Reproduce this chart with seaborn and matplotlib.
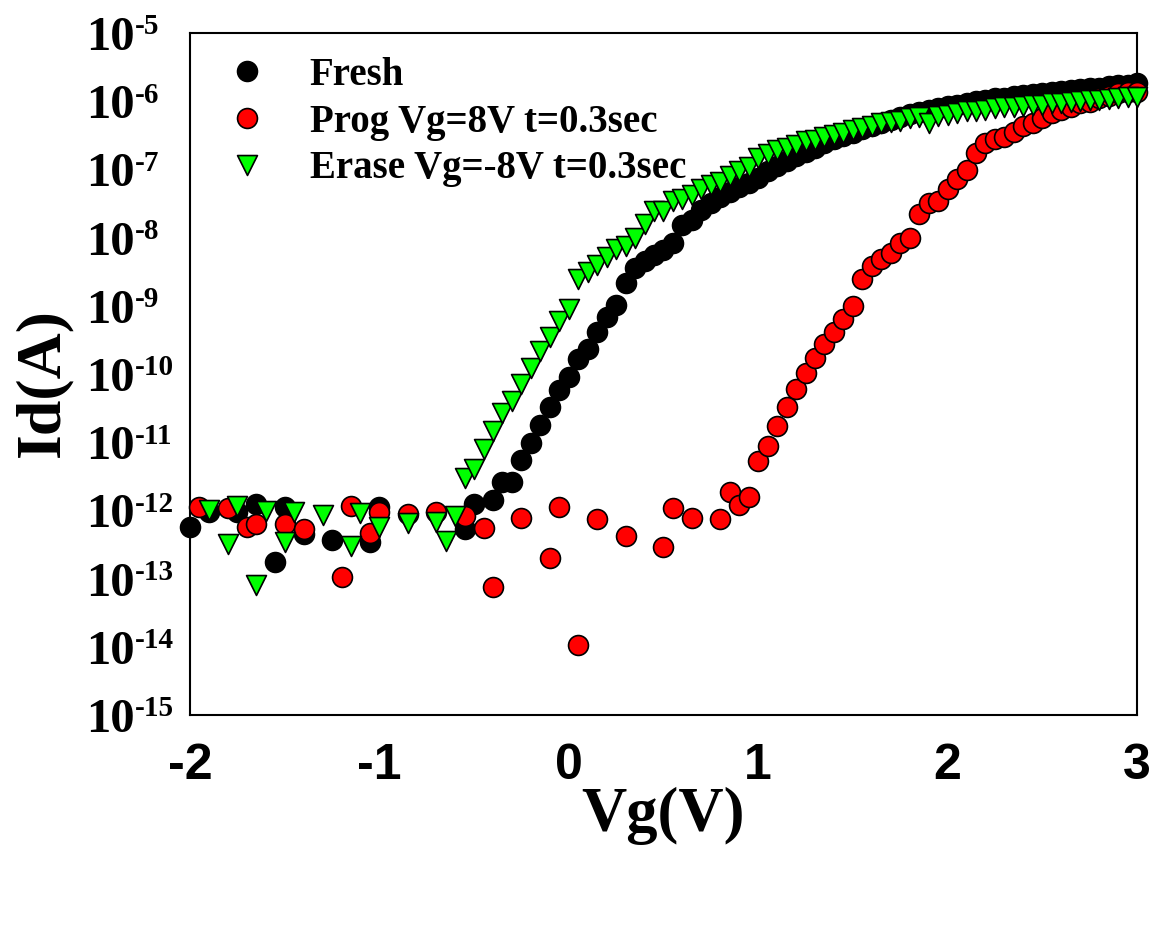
import matplotlib
matplotlib.use("Agg")
import matplotlib.pyplot as plt
import numpy as np
import pandas as pd
import seaborn as sns
from matplotlib.ticker import NullLocator

# gate voltage (V) and log10 of drain current (A)
fresh_vg = [-2.0, -1.9, -1.75, -1.65, -1.55, -1.5, -1.4, -1.25, -1.05, -1.0,
            -0.55, -0.5, -0.4, -0.35, -0.3, -0.25, -0.2, -0.15, -0.1, -0.05,
            0.0, 0.05, 0.1, 0.15, 0.2, 0.25, 0.3, 0.35, 0.4, 0.45,
            0.5, 0.55, 0.6, 0.65, 0.7, 0.75, 0.8, 0.85, 0.9, 0.95,
            1.0, 1.05, 1.1, 1.15, 1.2, 1.25, 1.3, 1.35, 1.4, 1.45,
            1.5, 1.55, 1.6, 1.65, 1.7, 1.75, 1.8, 1.85, 1.9, 1.95,
            2.0, 2.05, 2.1, 2.15, 2.2, 2.25, 2.3, 2.35, 2.4, 2.45,
            2.5, 2.55, 2.6, 2.65, 2.7, 2.75, 2.8, 2.85, 2.9, 2.95, 3.0]
fresh_log_id = [-12.24, -12.02, -12.02, -11.90, -12.75, -11.95, -12.34, -12.43, -12.46, -11.95,
                -12.27, -11.90, -11.85, -11.58, -11.58, -11.26, -11.01, -10.75, -10.48, -10.23,
                -10.04, -9.78, -9.63, -9.39, -9.16, -8.99, -8.67, -8.45, -8.35, -8.26,
                -8.18, -8.08, -7.82, -7.74, -7.60, -7.50, -7.40, -7.33, -7.26, -7.20,
                -7.13, -7.03, -6.95, -6.88, -6.81, -6.74, -6.68, -6.62, -6.56, -6.51,
                -6.46, -6.41, -6.37, -6.32, -6.28, -6.23, -6.19, -6.16, -6.13, -6.10,
                -6.07, -6.05, -6.02, -6.00, -5.98, -5.96, -5.95, -5.93, -5.91, -5.90,
                -5.88, -5.87, -5.85, -5.84, -5.82, -5.81, -5.80, -5.78, -5.77, -5.76, -5.74]

prog_vg = [-1.95, -1.8, -1.7, -1.65, -1.5, -1.4, -1.2, -1.15, -1.05, -1.0,
           -0.85, -0.7, -0.55, -0.45, -0.4, -0.25, -0.1, -0.05, 0.05, 0.15,
           0.3, 0.5, 0.55, 0.65, 0.8, 0.85, 0.9, 0.95,
           1.0, 1.05, 1.1, 1.15, 1.2, 1.25, 1.3, 1.35, 1.4, 1.45,
           1.5, 1.55, 1.6, 1.65, 1.7, 1.75, 1.8, 1.85, 1.9, 1.95,
           2.0, 2.05, 2.1, 2.15, 2.2, 2.25, 2.3, 2.35, 2.4, 2.45,
           2.5, 2.55, 2.6, 2.65, 2.7, 2.75, 2.8, 2.85, 2.9, 2.95, 3.0]
prog_log_id = [-11.95, -11.97, -12.24, -12.20, -12.20, -12.28, -12.98, -11.94, -12.33, -12.02,
               -12.05, -12.03, -12.08, -12.26, -13.13, -12.11, -12.70, -11.95, -13.97, -12.12,
               -12.38, -12.53, -11.96, -12.11, -12.13, -11.73, -11.92, -11.81,
               -11.28, -11.06, -10.77, -10.48, -10.22, -9.99, -9.76, -9.56, -9.39, -9.19,
               -9.00, -8.61, -8.41, -8.31, -8.23, -8.08, -8.00, -7.66, -7.49, -7.47,
               -7.29, -7.14, -7.01, -6.76, -6.62, -6.55, -6.52, -6.45, -6.36, -6.32,
               -6.25, -6.18, -6.13, -6.08, -6.03, -6.01, -5.96, -5.93, -5.88, -5.86, -5.86]

erase_vg = [-1.9, -1.8, -1.75, -1.65, -1.6, -1.5, -1.45, -1.3, -1.15, -1.1,
            -1.0, -0.85, -0.7, -0.65, -0.6,
            -0.55, -0.5, -0.45, -0.4, -0.35, -0.3, -0.25, -0.2, -0.15, -0.1, -0.05,
            0.0, 0.05, 0.1, 0.15, 0.2, 0.25, 0.3, 0.35, 0.4, 0.45,
            0.5, 0.55, 0.6, 0.65, 0.7, 0.75, 0.8, 0.85, 0.9, 0.95,
            1.0, 1.05, 1.1, 1.15, 1.2, 1.25, 1.3, 1.35, 1.4, 1.45,
            1.5, 1.55, 1.6, 1.65, 1.7, 1.75, 1.8, 1.85, 1.9, 1.95,
            2.0, 2.05, 2.1, 2.15, 2.2, 2.25, 2.3, 2.35, 2.4, 2.45,
            2.5, 2.55, 2.6, 2.65, 2.7, 2.75, 2.8, 2.85, 2.9, 2.95, 3.0]
erase_log_id = [-11.99, -12.49, -11.94, -13.10, -12.01, -12.46, -12.02, -12.07, -12.52, -12.04,
                -12.25, -12.19, -12.17, -12.45, -12.08,
                -11.53, -11.39, -11.10, -10.83, -10.57, -10.39, -10.14, -9.91, -9.66, -9.46, -9.23,
                -9.05, -8.61, -8.51, -8.40, -8.28, -8.17, -8.12, -8.00, -7.80, -7.61,
                -7.61, -7.47, -7.44, -7.38, -7.29, -7.23, -7.18, -7.10, -7.02, -6.96,
                -6.83, -6.78, -6.72, -6.68, -6.64, -6.59, -6.57, -6.53, -6.50, -6.46,
                -6.42, -6.40, -6.37, -6.32, -6.30, -6.29, -6.25, -6.23, -6.32, -6.22,
                -6.20, -6.18, -6.15, -6.15, -6.13, -6.10, -6.09, -6.08, -6.07, -6.06,
                -6.05, -6.03, -6.02, -6.01, -6.00, -5.98, -5.98, -5.97, -5.96, -5.94, -5.94]

SERIES = [
    ("Fresh", fresh_vg, fresh_log_id, "black", "o"),
    ("Prog Vg=8V t=0.3sec", prog_vg, prog_log_id, "#ff0000", "o"),
    ("Erase Vg=-8V t=0.3sec", erase_vg, erase_log_id, "#00ff00", "v"),
]
x_ticks = [-2, -1, 0, 1, 2, 3]
x_tick_labels = ["-2", "-1", "0", "1", "2", "3"]
y_exponents = list(range(-15, -4))

SERIF = "Liberation Serif"
SANS = "Liberation Sans"

sns.set_style("white")
plt.rcParams["font.family"] = [SERIF, "DejaVu Sans"]
for key in ["text.color", "axes.labelcolor", "xtick.color", "ytick.color", "axes.edgecolor"]:
    plt.rcParams[key] = "black"

fig = plt.figure(figsize=(11.57, 9.5), dpi=100)
ax = fig.add_axes([0.1642, 0.2474, 0.8185, 0.7179])

for i, (label, vg, log_id, color, marker) in enumerate(SERIES):
    df = pd.DataFrame({"Vg": vg, "Id": 10.0 ** np.asarray(log_id)})
    sns.scatterplot(data=df, x="Vg", y="Id", ax=ax, color=color, marker=marker,
                    s=205, edgecolor="black", linewidth=1.2, label=label,
                    clip_on=False, zorder=3 + i)

ax.set_yscale("log")
ax.set_xlim(-2, 3)
ax.set_ylim(1e-15, 1e-5)
ax.yaxis.set_minor_locator(NullLocator())
ax.xaxis.set_minor_locator(NullLocator())

ax.set_xticks(x_ticks)
ax.set_xticklabels(x_tick_labels, fontfamily=SANS, fontweight="bold", fontsize=36)
ax.set_yticks([10.0 ** e for e in y_exponents])
ax.set_yticklabels([])
ax.tick_params(axis="both", direction="in", length=7, width=1.3,
               top=False, right=False, color="black", labelcolor="black")
ax.tick_params(axis="x", pad=20)

for side in ["left", "right", "top", "bottom"]:
    ax.spines[side].set_linewidth(1.5)
    ax.spines[side].set_color("black")

# decade labels as 10 with a raised exponent
ytrans = ax.get_yaxis_transform()
for e in y_exponents:
    ax.annotate("10", xy=(0, 10.0 ** e), xycoords=ytrans, xytext=(-40, -12.2),
                textcoords="offset points", ha="right", va="baseline", color="black",
                fontsize=35, fontweight="bold", fontfamily=SERIF, annotation_clip=False)
    ax.annotate(f"-{-e}", xy=(0, 10.0 ** e), xycoords=ytrans, xytext=(-40, -1),
                textcoords="offset points", ha="left", va="baseline", color="black",
                fontsize=21, fontweight="bold", fontfamily=SERIF, annotation_clip=False)

ax.set_xlabel("Vg(V)", fontsize=45, fontweight="bold", fontfamily=SERIF, color="black")
ax.set_ylabel("Id(A)", fontsize=46, fontweight="bold", fontfamily=SERIF, color="black")
ax.xaxis.set_label_coords(0.5, -0.1056)
ax.yaxis.set_label_coords(-0.1246, 0.488)

ax.legend(loc="upper left", bbox_to_anchor=(0.04, 0.965), borderaxespad=0, borderpad=0,
          handlelength=1.0, handletextpad=1.1, labelspacing=0.25, frameon=False,
          scatteryoffsets=[0.5], labelcolor="black",
          prop={"family": SERIF, "weight": "bold", "size": 28})

fig.savefig("out.png", dpi=100)
